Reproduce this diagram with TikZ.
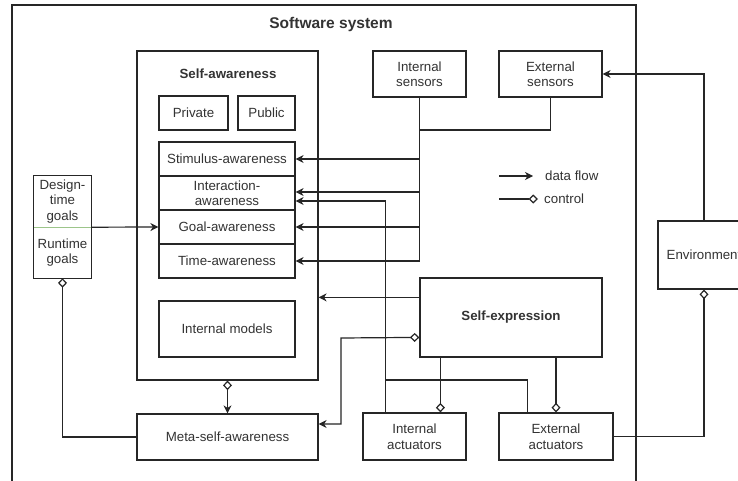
\documentclass[tikz,border=0pt]{standalone}
\usepackage{fontspec}
\setmainfont{Liberation Sans}
\usetikzlibrary{arrows.meta,calc}
\definecolor{ink}{HTML}{262626}
\definecolor{txt}{HTML}{333333}
\definecolor{divgreen}{HTML}{9CC58A}
\begin{document}
\begin{tikzpicture}[x=1pt,y=-1pt,
  every node/.style={text=txt,font=\fontsize{13.3}{15.5}\selectfont},
  box/.style={draw=ink,line width=1.2pt,rectangle,inner sep=0pt,align=center},
  plain/.style={inner sep=0pt,align=center},
  wire/.style={draw=ink,line width=1.2pt},
  flow/.style={wire,-{Stealth[length=8pt,width=8pt,inset=2.5pt]}},
  ctrl/.style={wire,-{Diamond[open,length=9.5pt,width=9pt]}},
  bold/.style={font=\fontsize{13.3}{15.5}\selectfont\bfseries}]
\useasboundingbox (0,0) rectangle (738,481);
\fill[white] (0,0) rectangle (738,481);
\clip (0,0) rectangle (738,481);

% system boundary
\draw[wire] (12,500) -- (12,5) -- (636,5) -- (636,500);
\node[plain,font=\fontsize{15.5}{18}\selectfont\bfseries] (systitle) at (331,24) {Software system};

% self-awareness block
\node[box,minimum width=181pt,minimum height=329pt] (sa) at (227.5,215.5) {};
\node[plain,bold] (satitle) at (228,74) {Self-awareness};
\node[box,minimum width=69pt,minimum height=34pt] (priv) at (193.5,113) {Private};
\node[box,minimum width=57pt,minimum height=34pt] (pub) at (266.5,113) {Public};
\node[box,minimum width=136pt,minimum height=34pt] (stim) at (227,159) {Stimulus-awareness};
\node[box,minimum width=136pt,minimum height=34pt] (inter) at (227,193) {Interaction-\\awareness};
\node[box,minimum width=136pt,minimum height=34pt] (goal) at (227,227) {Goal-awareness};
\node[box,minimum width=136pt,minimum height=34pt] (time) at (227,261) {Time-awareness};
\node[box,minimum width=136pt,minimum height=56pt] (models) at (227,329) {Internal models};

% goals
\node[plain,minimum width=57pt,minimum height=51pt] (dg) at (62.5,201.5) {Design-\\time\\goals};
\node[plain,minimum width=57pt,minimum height=51pt] (rg) at (62.5,252.5) {Runtime\\goals};
\draw[wire] (dg.north west) rectangle (rg.south east);
\draw[draw=divgreen,line width=1.2pt] (dg.south west) -- (dg.south east);

% meta level
\node[box,minimum width=181pt,minimum height=46pt] (msa) at (227.5,437) {Meta-self-awareness};

% sensors, actuators, self-expression, environment
\node[box,minimum width=93pt,minimum height=46pt] (isens) at (419.5,74) {Internal\\sensors};
\node[box,minimum width=103pt,minimum height=46pt] (esens) at (550.5,74) {External\\sensors};
\node[box,bold,minimum width=182pt,minimum height=79pt] (sexp) at (511,317.5) {Self-expression};
\node[box,minimum width=103pt,minimum height=47pt] (iact) at (414.5,436.5) {Internal\\actuators};
\node[box,minimum width=114pt,minimum height=47pt] (eact) at (556,436.5) {External\\actuators};
\node[box,minimum width=92pt,minimum height=68pt] (env) at (704,255) {Environment};

% sensor data into self-awareness
\coordinate (sj) at (420,130);
\draw[wire] (esens.south) |- (sj);
\draw[flow] (isens.south) |- (stim.east);
\draw[flow] (isens.south) |- ($(inter.east)+(0,-1)$);
\draw[flow] (isens.south) |- (goal.east);
\draw[flow] (isens.south) |- (time.east);

% actuator feedback into interaction-awareness
\coordinate (aj) at (386,380);
\draw[flow] ($(iact.north west)+(23,0)$) |- ($(inter.east)+(0,8)$);
\draw[wire] ($(eact.north west)+(29,0)$) |- (aj);

% environment loop
\draw[flow] (env.north) |- (esens.east);
\draw[ctrl] (eact.east) -| (env.south);

% self-expression links
\draw[flow] ($(sexp.north west)+(0,20)$) -- (sa.east |- {$(sexp.north west)+(0,20)$});
\draw[wire,{Diamond[open,length=9.5pt,width=9pt]}-{Stealth[length=8pt,width=8pt,inset=2.5pt]}]
  ($(sexp.north west)+(0,60)$) -- (341,338) -- (341,424) -- ($(msa.east)+(0,-13)$);
\draw[ctrl] ($(sexp.south west)+(21,0)$) -- ($(iact.north west)+(78,0)$);
\draw[ctrl] (sexp.south -| eact.north) -- (eact.north);

% meta-self-awareness links
\draw[wire,{Diamond[open,length=9.5pt,width=9pt]}-{Stealth[length=8pt,width=8pt,inset=2.5pt]}] (sa.south) -- (msa.north);
\draw[wire,{Diamond[open,length=9.5pt,width=9pt]}-] (rg.south) |- (msa.west);
\draw[flow] (dg.south east) -- (goal.west);

% legend
\coordinate (l1a) at (499,176);
\coordinate (l1b) at (533,176);
\coordinate (l2a) at (499,199);
\coordinate (l2b) at (538,199);
\draw[flow] (l1a) -- (l1b);
\draw[ctrl] (l2a) -- (l2b);
\node[plain,anchor=west] (lgflow) at (545,176) {data flow};
\node[plain,anchor=west] (lgctrl) at (544,199) {control};
\end{tikzpicture}
\end{document}
